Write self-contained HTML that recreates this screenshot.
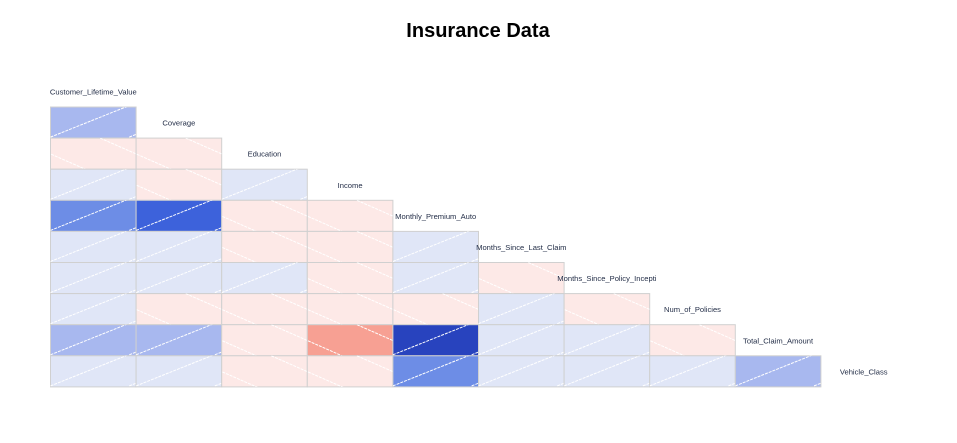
<!DOCTYPE html>
<html><head><meta charset="utf-8"><style>
html,body{margin:0;padding:0;background:#fff;}
svg text{font-family:"Liberation Sans",sans-serif;}
</style></head><body>
<svg id="chart" width="957" height="438" xmlns="http://www.w3.org/2000/svg">
<text x="478" y="37" text-anchor="middle" font-size="20" font-weight="bold" fill="#000">Insurance Data</text>
<g id="cells"></g>
<g id="labels"></g>
</svg>
<script>
const variables = ["Customer_Lifetime_Value","Coverage","Education","Income","Monthly_Premium_Auto","Months_Since_Last_Claim","Months_Since_Policy_Inception","Num_of_Policies","Total_Claim_Amount","Vehicle_Class"];
const displayLabels = ["Customer_Lifetime_Value","Coverage","Education","Income","Monthly_Premium_Auto","Months_Since_Last_Claim","Months_Since_Policy_Incepti","Num_of_Policies","Total_Claim_Amount","Vehicle_Class"];
// lower triangle: row r (1..9) has values for cols 0..r-1
const corrRow1 = [0.30];
const corrRow2 = [-0.05,-0.05];
const corrRow3 = [0.05,-0.05,0.05];
const corrRow4 = [0.55,0.75,-0.05,-0.05];
const corrRow5 = [0.05,0.05,-0.05,-0.05,0.05];
const corrRow6 = [0.05,0.05,0.05,-0.05,0.05,-0.05];
const corrRow7 = [0.05,-0.05,-0.05,-0.05,-0.05,0.05,-0.05];
const corrRow8 = [0.30,0.30,-0.05,-0.38,0.87,0.05,0.05,-0.05];
const corrRow9 = [0.05,0.05,-0.05,-0.05,0.55,0.05,0.05,0.05,0.30];
const corrRows = [null,corrRow1,corrRow2,corrRow3,corrRow4,corrRow5,corrRow6,corrRow7,corrRow8,corrRow9];

const NS="http://www.w3.org/2000/svg";
const x0=50.5, cw=85.6, y0=107, ch=31.1;
const xPos=c=>x0+c*cw;
const yPos=r=>y0+(r-1)*ch;
function lerp(a,b,t){return a.map((v,i)=>Math.round(v+(b[i]-v)*t));}
const posStops=[0.05,0.3,0.55,0.75,0.87];
const posCols=[[224,230,247],[168,184,239],[109,141,230],[61,98,219],[40,67,190]];
function color(v){
  if(v>=0){
    if(v<=posStops[0]) return "rgb(224,230,247)";
    for(let i=0;i<posStops.length-1;i++){
      if(v<=posStops[i+1]){const t=(v-posStops[i])/(posStops[i+1]-posStops[i]);return "rgb("+lerp(posCols[i],posCols[i+1],t).join(",")+")";}
    }
    return "rgb(40,67,190)";
  } else {
    if(v>-0.1) return "rgb(253,233,231)";
    const t=Math.min(1,(-v-0.05)/0.33);
    return "rgb("+lerp([253,233,231],[247,160,147],t).join(",")+")";
  }
}
const cellsG=document.getElementById('cells');
const labelsG=document.getElementById('labels');
let clipId=0;
for(let r=1;r<corrRows.length;r++){
  const row=corrRows[r];
  for(let c=0;c<row.length;c++){
    const v=row[c];
    const x=xPos(c), y=yPos(r);
    const g=document.createElementNS(NS,'g');
    
    
    const cp=document.createElementNS(NS,'clipPath');
    cp.setAttribute('id','cp'+clipId);
    const cr=document.createElementNS(NS,'rect');
    cr.setAttribute('x',x);cr.setAttribute('y',y);cr.setAttribute('width',cw);cr.setAttribute('height',ch);
    cp.appendChild(cr);g.appendChild(cp);
    const rect=document.createElementNS(NS,'rect');
    rect.setAttribute('x',x);rect.setAttribute('y',y);rect.setAttribute('width',cw);rect.setAttribute('height',ch);
    rect.setAttribute('fill',color(v));rect.setAttribute('stroke','#d0d0d0');rect.setAttribute('stroke-width','1');
    g.appendChild(rect);
    const lines=document.createElementNS(NS,'g');
    lines.setAttribute('clip-path','url(#cp'+clipId+')');
    const slope=0.4;
    for(let k=-1;k<=1;k++){
      const ln=document.createElementNS(NS,'line');
      let x1,y1,x2,y2;
      if(v>=0){ const bx=x+k*cw*0.92; x1=bx;y1=y+ch-1;x2=bx+cw;y2=y+ch-1-cw*slope; }
      else { const tx=x+cw*0.58+k*cw; x1=tx;y1=y;x2=tx+cw;y2=y+cw*slope*1.1; }
      ln.setAttribute('x1',x1);ln.setAttribute('y1',y1);ln.setAttribute('x2',x2);ln.setAttribute('y2',y2);
      ln.setAttribute('stroke','#fff');ln.setAttribute('stroke-width','1');ln.setAttribute('stroke-dasharray','3 1');
      lines.appendChild(ln);
    }
    g.appendChild(lines);
    cellsG.appendChild(g);
    clipId++;
  }
}
for(let k=0;k<variables.length;k++){
  const t=document.createElementNS(NS,'text');
  
  
  const cx=xPos(k)+cw/2, cy=yPos(k)+ch/2+3;
  t.setAttribute('x',cx);t.setAttribute('y',cy);
  t.setAttribute('text-anchor','middle');t.setAttribute('font-size','7.6');t.setAttribute('fill','#1f2a44');
  t.textContent=displayLabels[k];
  labelsG.appendChild(t);
}
</script>
</body></html>
